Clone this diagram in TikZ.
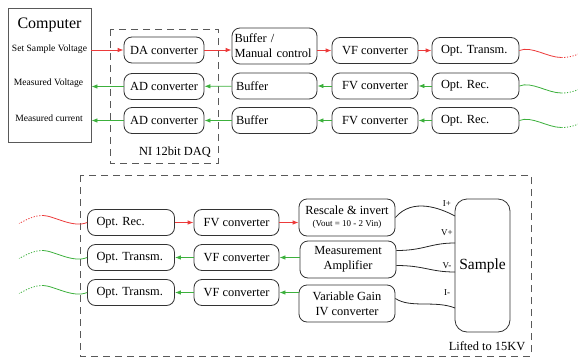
\documentclass[tikz,border=0pt]{standalone}
\usepackage{fontspec}
\setmainfont{Liberation Serif}
\usetikzlibrary{arrows.meta}
\definecolor{sigred}{RGB}{236,58,58}
\definecolor{siggreen}{RGB}{60,176,60}
\frenchspacing

\begin{document}
\begin{tikzpicture}[x=1pt,y=-1pt,font=\fontsize{12.4}{15}\selectfont]
\tikzstyle{block}=[draw=black!80,rounded corners=8pt,line width=0.8pt,minimum height=26pt,inner sep=0pt,align=center]
\tikzstyle{lblock}=[block,align=left,inner xsep=2.5pt,text width=80pt]
\tikzstyle{optblock}=[block,align=left,inner xsep=9pt,text width=69pt]
\tikzstyle{fwd}=[draw=sigred,line width=0.8pt,-{Latex[length=6pt,width=4.5pt]}]
\tikzstyle{back}=[draw=siggreen,line width=0.8pt,-{Latex[length=6pt,width=4.5pt]}]
\tikzstyle{fwd wire}=[draw=sigred,line width=0.8pt]
\tikzstyle{back wire}=[draw=siggreen,line width=0.8pt]
\tikzstyle{fade}=[dash pattern=on 1.2pt off 1.6pt]
\tikzstyle{frame}=[draw=black!65,line width=0.8pt,dash pattern=on 7pt off 5pt]
\tikzstyle{wire}=[draw=black!85,line width=0.8pt]
\tikzstyle{pin}=[font=\fontsize{9}{10}\selectfont,inner sep=0pt]
\useasboundingbox (0,0) rectangle (578,359);

% computer side
\node [draw=black!65,line width=0.8pt,minimum width=83pt,minimum height=134pt] (0) at (49.5,75) {};
\node (1) at (49.5,25) [font=\fontsize{16}{18}\selectfont] {Computer};
\node (2) at (49.5,49) [font=\fontsize{9.6}{11}\selectfont] {Set Sample Voltage};
\node (3) at (48.5,83) [font=\fontsize{9.6}{11}\selectfont] {Measured Voltage};
\node (4) at (49,118) [font=\fontsize{9.6}{11}\selectfont] {Measured current};

% DAQ card
\draw[frame] (110,29) rectangle (218,163);
\node (27) at (175,152) {NI 12bit DAQ};
\node [block,minimum width=80pt] (5) at (164,50) {DA converter};
\node [block,minimum width=80pt] (6) at (164,86.5) {AD converter};
\node [block,minimum width=80pt] (7) at (164,120.5) {AD converter};

\node [lblock,minimum height=36pt] (8) at (274.5,46) {Buffer /\\Manual control};
\node [lblock] (9) at (274.5,86) {\hspace{1.5pt}Buffer};
\node [lblock] (10) at (274.5,120.5) {\hspace{1.5pt}Buffer};

\node [block,minimum width=86pt] (11) at (375,50.5) {VF converter};
\node [block,minimum width=86pt] (12) at (375,86) {FV converter};
\node [block,minimum width=86pt] (13) at (375,120.5) {FV converter};

\node [optblock] (14) at (475.5,50.5) {Opt. Transm.};
\node [optblock] (15) at (475.5,86) {Opt. Rec.};
\node [optblock] (16) at (475.5,120.5) {Opt. Rec.};

% high voltage side
\draw[frame] (80,175) rectangle (531,356);
\node (28) at (487,346) {Lifted to 15KV};
\node [optblock] (17) at (131,222.5) {Opt. Rec.};
\node [optblock] (18) at (131,257.5) {Opt. Transm.};
\node [optblock] (19) at (131,292.5) {Opt. Transm.};

\node [block,minimum width=85pt] (20) at (236.5,222.5) {FV converter};
\node [block,minimum width=85pt] (21) at (236.5,257.5) {VF converter};
\node [block,minimum width=85pt] (22) at (236.5,292.5) {VF converter};

\node [block,minimum width=96pt,minimum height=37pt] (23) at (347,217.5) {Rescale \& invert\\[-3pt]{\fontsize{9}{10}\selectfont (Vout = 10 - 2 Vin)}};
\node [block,minimum width=96pt,minimum height=37pt] (24) at (348,259.5) {Measurement\\Amplifier};
\node [block,minimum width=96pt,minimum height=37pt] (25) at (347,303.5) {Variable Gain\\IV converter};

\node [block,rounded corners=12pt,minimum width=55pt,minimum height=133pt,font=\fontsize{15.5}{18}\selectfont] (26) at (482.5,265.5) {Sample};
\coordinate (ip) at (455,216);
\coordinate (vp) at (455,243);
\coordinate (vm) at (455,272);
\coordinate (im) at (455,308);
\node [pin] (29) at (447,204) {I+};
\node [pin] (30) at (447,233) {V+};
\node [pin] (31) at (447,266) {V-};
\node [pin] (32) at (447,293) {I-};

% set voltage path
\draw[fwd] (5 -| 0.east) -- (5);
\draw[fwd] (5) -- (5 -| 8.west);
\draw[fwd] (11 -| 8.east) -- (11);
\draw[fwd] (11) -- (14);
\draw[fwd] (17) -- (20);
\draw[fwd] (20) -- (20 -| 23.west);

% read back paths
\draw[back] (15) -- (12);
\draw[back] (12) -- (9);
\draw[back] (9) -- (6);
\draw[back] (6) -- (6 -| 0.east);
\draw[back] (16) -- (13);
\draw[back] (13) -- (10);
\draw[back] (10) -- (7);
\draw[back] (7) -- (7 -| 0.east);
\draw[back] (21 -| 24.west) -- (21);
\draw[back] (21) -- (18);
\draw[back] (22 -| 25.west) -- (22);
\draw[back] (22) -- (19);

% fibres
\draw[fwd wire] (14.east) .. controls +(12,-5) and +(-14,0) .. ++(42,7) coordinate (a1);
\draw[fwd wire,fade] (a1) .. controls +(8,0) and +(-5,2) .. ++(17,-3.5) coordinate (a2);
\draw[back wire] (15.east) .. controls +(12,-5) and +(-14,0) .. ++(42,7) coordinate (b1);
\draw[back wire,fade] (b1) .. controls +(8,0) and +(-5,2) .. ++(17,-3.5) coordinate (b2);
\draw[back wire] (16.east) .. controls +(12,-5) and +(-14,0) .. ++(42,7) coordinate (c1);
\draw[back wire,fade] (c1) .. controls +(8,0) and +(-5,2) .. ++(17,-3.5) coordinate (c2);

\draw[fwd wire] (17.west) .. controls +(-14,6) and +(10,0) .. ++(-44,-7) coordinate (d1);
\draw[fwd wire,fade] (d1) .. controls +(-10,0) and +(8,-4) .. ++(-24,8) coordinate (d2);
\draw[back wire] (18.west) .. controls +(-14,6) and +(10,0) .. ++(-44,-7) coordinate (e1);
\draw[back wire,fade] (e1) .. controls +(-10,0) and +(8,-4) .. ++(-24,8) coordinate (e2);
\draw[back wire] (19.west) .. controls +(-14,6) and +(10,0) .. ++(-44,-7) coordinate (f1);
\draw[back wire,fade] (f1) .. controls +(-10,0) and +(8,-4) .. ++(-24,8) coordinate (f2);

% sample leads
\draw[wire] (23.east) .. controls +(17,-20) and +(-15,-8) .. (ip);
\draw[wire] ([yshift=9pt]24.east) .. controls +(28,0) and +(-25,0) .. (vp);
\draw[wire] ([yshift=-6pt]24.east) .. controls +(28,0) and +(-25,0) .. (vm);
\draw[wire] ([yshift=5pt]25.east) .. controls +(15,10) and +(-20,-8) .. (im);
\end{tikzpicture}
\end{document}
